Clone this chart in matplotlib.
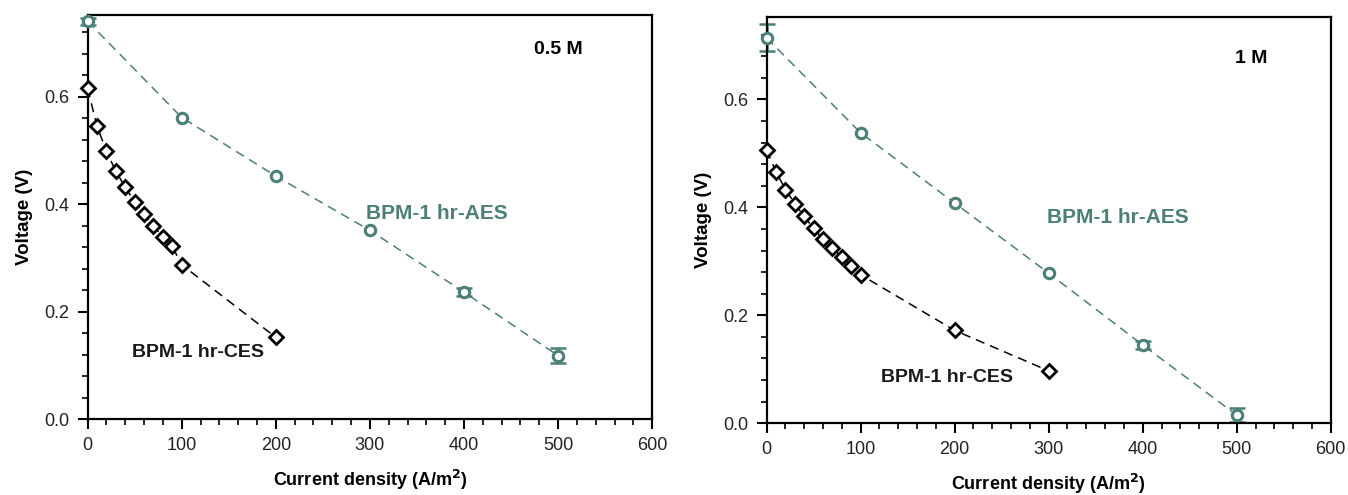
import matplotlib.pyplot as plt
from matplotlib.ticker import MultipleLocator

plt.rcParams['font.family'] = ['Liberation Sans', 'DejaVu Sans']

TEAL = '#4b7f77'

# 0.5 M
aes_x_05 = [0, 100, 200, 300, 400, 500]
aes_y_05 = [0.740, 0.561, 0.452, 0.351, 0.236, 0.118]
aes_e_05 = [0.006, 0, 0, 0, 0.007, 0.014]
ces_x_05 = [0, 10, 20, 30, 40, 50, 60, 70, 80, 90, 100, 200]
ces_y_05 = [0.615, 0.545, 0.498, 0.461, 0.431, 0.404, 0.381, 0.359, 0.339, 0.321, 0.287, 0.152]

# 1 M
aes_x_1 = [0, 100, 200, 300, 400, 500]
aes_y_1 = [0.714, 0.538, 0.408, 0.278, 0.145, 0.015]
aes_e_1 = [0.025, 0, 0, 0, 0.007, 0.013]
ces_x_1 = [0, 10, 20, 30, 40, 50, 60, 70, 80, 90, 100, 200, 300]
ces_y_1 = [0.506, 0.466, 0.433, 0.407, 0.383, 0.361, 0.341, 0.324, 0.308, 0.292, 0.275, 0.172, 0.097]

panels = [
    (aes_x_05, aes_y_05, aes_e_05, ces_x_05, ces_y_05, '0.5 M',
     (474, 0.687), (296, 0.383), (47, 0.123)),
    (aes_x_1, aes_y_1, aes_e_1, ces_x_1, ces_y_1, '1 M',
     (498, 0.675), (298, 0.381), (122, 0.084)),
]

fig = plt.figure(figsize=(13.48, 4.95), dpi=100)
ax1 = fig.add_axes([0.0650, 0.1535, 0.4188, 0.8165])
ax2 = fig.add_axes([0.5687, 0.1450, 0.4185, 0.8200])

for ax, p in zip([ax1, ax2], panels):
    ax_x, ay, ae, cx, cy, conc, pc, pa, pce = p
    # error bars only where they are visible
    ex = [x for x, e in zip(ax_x, ae) if e > 0]
    ey = [y for y, e in zip(ay, ae) if e > 0]
    ee = [e for e in ae if e > 0]
    ax.errorbar(ex, ey, yerr=ee, fmt='none', ecolor=TEAL, capsize=6,
                elinewidth=1.8, capthick=1.8, zorder=2, clip_on=False)
    ax.plot(ax_x, ay, color=TEAL, ls=(0, (6, 4)), lw=1.1,
            marker='o', ms=7.5, mfc='white', mec=TEAL, mew=2.2,
            zorder=3, clip_on=False)
    ax.plot(cx, cy, color='black', ls=(0, (6, 4)), lw=1.1,
            marker='D', ms=7, mfc='white', mec='black', mew=2,
            zorder=4, clip_on=False)
    ax.set_xlim(0, 600)
    ax.set_ylim(0, 0.752)
    ax.xaxis.set_major_locator(MultipleLocator(100))
    ax.xaxis.set_minor_locator(MultipleLocator(20))
    ax.yaxis.set_major_locator(MultipleLocator(0.2))
    ax.yaxis.set_minor_locator(MultipleLocator(0.04))
    ax.yaxis.set_major_formatter(plt.FormatStrFormatter('%.1f'))
    ax.tick_params(which='major', direction='out', length=7, width=1.5,
                   labelsize=13, pad=6)
    ax.tick_params(which='minor', direction='out', length=4, width=1.2)
    for s in ax.spines.values():
        s.set_linewidth(1.6)
    ax.set_xlabel('Current density (A/m$^\\mathbf{2}$)', fontsize=13,
                  fontweight='bold', labelpad=10)
    ax.set_ylabel('Voltage (V)', fontsize=13.5, fontweight='bold', labelpad=8)
    ax.text(pc[0], pc[1], conc, fontsize=14, fontweight='bold', va='center')
    ax.text(pa[0], pa[1], 'BPM-1 hr-AES', fontsize=15, fontweight='bold',
            color=TEAL, va='center')
    ax.text(pce[0], pce[1], 'BPM-1 hr-CES', fontsize=14, fontweight='bold',
            color='#1a1a1a', va='center')
    for l in ax.get_xticklabels() + ax.get_yticklabels():
        l.set_color('#222222')

fig.savefig('out.png', dpi=100)
